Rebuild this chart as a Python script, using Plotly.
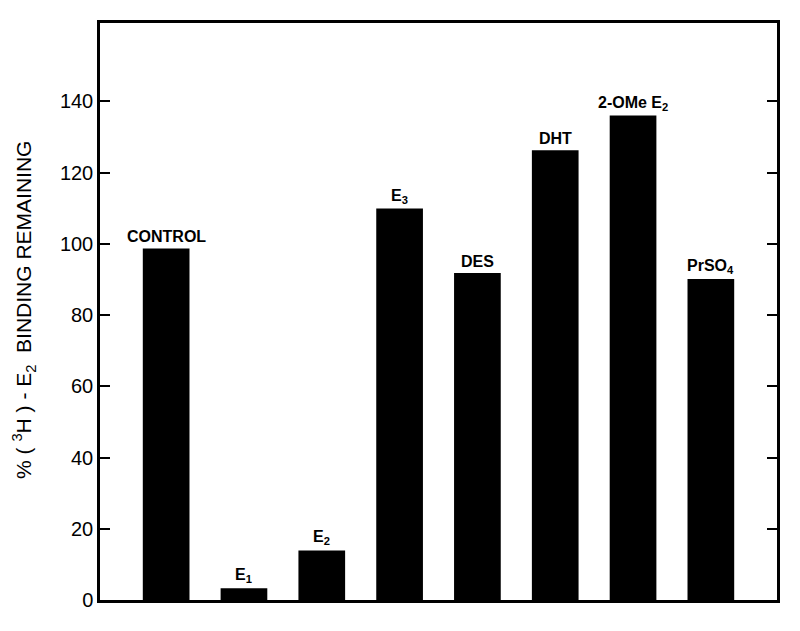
import plotly.graph_objects as go

# data
categories = ["CONTROL", "E1", "E2", "E3", "DES", "DHT", "2-OMe E2", "PrSO4"]
bar_labels = ["CONTROL", "E<sub>1</sub>", "E<sub>2</sub>", "E<sub>3</sub>", "DES", "DHT",
              "2-OMe E<sub>2</sub>", "PrSO<sub>4</sub>"]
binding = [98.7, 3.3, 13.9, 109.9, 91.8, 126.3, 136.0, 90.1]
y_ticks = [0, 20, 40, 60, 80, 100, 120, 140]

fig = go.Figure()
fig.add_trace(go.Bar(x=categories, y=binding, width=0.6,
                     marker=dict(color="black", line=dict(width=0))))

# labels above bars
for cat, lab, val in zip(categories, bar_labels, binding):
    fig.add_annotation(x=cat, y=val, text="<b>" + lab + "</b>", showarrow=False,
                       xanchor="center", yanchor="bottom", yshift=1,
                       font=dict(family="Liberation Sans, Arial", size=16, color="black"))

# y axis title
fig.add_annotation(xref="paper", yref="paper", x=-0.112, y=0.503,
                   text="% ( <sup>3</sup>H ) - E<sub>2</sub>  BINDING REMAINING",
                   textangle=-90, showarrow=False, xanchor="center", yanchor="middle",
                   font=dict(family="Liberation Sans, Arial", size=21, color="black"))

# page body has an 8px margin, so the figure is sized to fit the window
fig.update_layout(
    width=792, height=615,
    margin=dict(l=92, r=23, t=12, b=21),
    plot_bgcolor="white", paper_bgcolor="white",
    showlegend=False,
    font=dict(family="Liberation Sans, Arial", color="black"),
)
fig.update_xaxes(range=[-0.85, 7.85], showticklabels=False, ticks="",
                 showline=True, linecolor="black", linewidth=2.5, mirror=True,
                 showgrid=False, zeroline=False)
fig.update_yaxes(range=[0, 162], tickvals=y_ticks, ticks="inside", ticklen=10,
                 tickwidth=2, tickcolor="black",
                 showline=True, linecolor="black", linewidth=2.5, mirror="ticks",
                 showgrid=False, zeroline=False,
                 tickfont=dict(size=20, color="black"))

fig.write_html("out.html")
